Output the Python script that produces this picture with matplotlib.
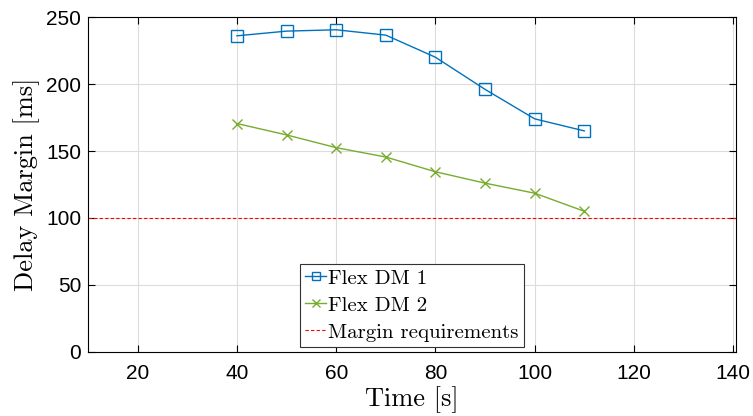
import numpy as np
import matplotlib
matplotlib.use("Agg")
import matplotlib.pyplot as plt

# data
timeS = [40, 50, 60, 70, 80, 90, 100, 110]
flexDM1 = [236, 239.5, 240.5, 236.5, 220, 196, 174, 165]
flexDM2 = [170.5, 162, 152.5, 145.5, 134.5, 126, 118.5, 105]
marginReq = 100

fig = plt.figure(figsize=(7.53, 4.16), dpi=100)
ax = fig.add_axes([0.117, 0.154, 0.860, 0.805])

ax.plot(timeS, flexDM1, color="#0072BD", marker="s", markersize=8,
		markerfacecolor="none", markeredgewidth=1.0, linewidth=1.0, label="Flex DM 1")
ax.plot(timeS, flexDM2, color="#77AC30", marker="x", markersize=7,
		markeredgewidth=1.0, linewidth=1.0, label="Flex DM 2")
ax.axhline(marginReq, color="#FF0000", linestyle=(0, (3, 2)), linewidth=0.8,
		   label="Margin requirements")

ax.set_xlim(10, 140.5)
ax.set_ylim(0, 250)
ax.set_xticks(np.arange(20, 141, 20))
ax.set_yticks(np.arange(0, 251, 50))
ax.grid(True, color="#dcdcdc", linewidth=0.8)
ax.set_axisbelow(True)
ax.tick_params(direction="in", top=True, right=True, length=5, width=0.8,
			   labelsize=15)
ax.tick_params(axis="x", pad=9)
ax.tick_params(axis="y", pad=5)
for lab in ax.get_xticklabels() + ax.get_yticklabels():
	lab.set_fontfamily("Liberation Sans")
for sp in ax.spines.values():
	sp.set_linewidth(0.8)

ax.set_xlabel("Time [s]", fontfamily="cmr10", fontsize=19, labelpad=2)
ax.set_ylabel("Delay Margin [ms]", fontfamily="cmr10", fontsize=19, labelpad=4)

leg = ax.legend(loc="lower center", bbox_to_anchor=(0.5, 0.0), prop={"family": "cmr10", "size": 15},
				fancybox=False, framealpha=1, edgecolor="#333333", handlelength=1.0,
				handletextpad=0.1, borderpad=0.25, labelspacing=0.4, borderaxespad=0.25,
				markerscale=0.8)
leg.get_frame().set_linewidth(0.8)

fig.savefig("out.png", dpi=100)
